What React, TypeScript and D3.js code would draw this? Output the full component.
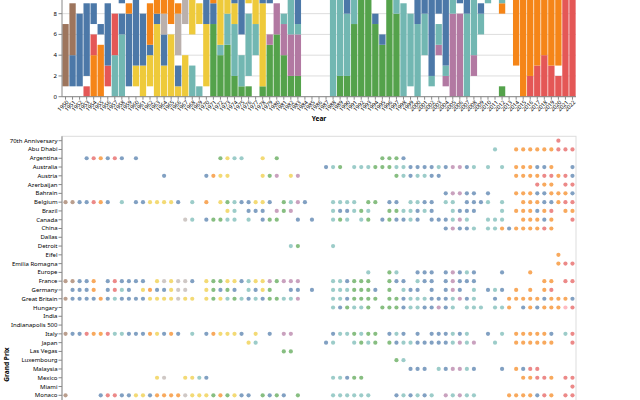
import React from 'react';
import * as d3 from 'd3';

// seasons 1950..2022, one band each
const years: string[] = d3.range(1950, 2023).map(String);

// colour keys used in the data strings below ('-' = constructor with no colour)
const colorKeys = ['B', 'O', 'R', 'T', 'G', 'Y', 'P', 'K', 'N', 'A'];
const tableau = ['#4c78a8', '#f58518', '#e45756', '#72b7b2', '#54a24b', '#eeca3b', '#b279a2', '#ff9da6', '#9d755d', '#bab0ac'];

// wins per season, stacked from the bottom: <colour><count>
const winsBySeason: string[] = [
  '-1 N6', '-1 B3 N5', '-1 B7', 'R1 -1 B7', 'O4 R2 -1 B2', 'O5 -1 B1', '-1 R2 B6', 'T4 R4', 'T6 B2 -1 B2', '-1 B7 O1',
  '-1 Y2 B7', 'Y3 B5', '-1 Y3 B1 O4', 'Y7 B1 O2', 'Y3 B3 A2 O2', 'Y6 -1 O3', 'Y1 B2 -1 A4 O1', 'Y4 -3 A4', 'T3 -3 Y5 B1', 'T1 -6 Y2 -2',
  '-1 Y6 B4 -2', 'G7 B2 O2', 'G4 T1 Y5 B1 O1', 'G5 T3 Y7', 'G2 T5 Y2 B3 -3', 'G1 T3 -2 B6 -2', 'G1 -1 T6 -1 Y1 B6', '-4 T3 Y5 -1 B4', 'G1 Y8 B5 -2', 'G5 P1 -3 B6',
  'G6 P3 -5', 'G4 P3 T1 -2 B2 -3', 'G2 P4 T4 -1 B3 -2', 'G2 P4 T1 B4 -4', '-16', '-16', '-16', '-16', 'T15 B1', 'G2 T10 B3 -1',
  'G2 T6 B6 -2', 'G7 T8 -1', 'G10 T5 -1', 'G10 T5 -1', 'G7 B1 -8', 'G5 B1 -11', 'G12 -1 B3', 'G8 T3 -1 B5', 'T9 -1 B6', '-1 T7 -2 B6',
  'T7 B10', '-4 T4 B9', '-1 T1 B15', '-4 P1 T2 -1 B8', '-1 P1 T1 B15', 'P8 T10 B1', 'P8 -1 B9', 'T8 B9', '-2 P2 T6 B8 -1', '-6 T2 B1 -8',
  '-9 T5 B5', '-12 T6 B1', 'G1 -7 O1 T7 -1 B3', '-13 O3 -1 B2', '-3 O16', 'O16 B3', 'R2 O19', 'R3 O12 B5', 'R4 O11 B6', 'R3 O15 B3',
  'R2 -1 O13 -1', 'R11 O9 K1', 'R17 O1 B4',
];

const grandPrix: string[] = [
  '70th Anniversary', 'Abu Dhabi', 'Argentina', 'Australia', 'Austria', 'Azerbaijan', 'Bahrain', 'Belgium', 'Brazil', 'Canada',
  'China', 'Dallas', 'Detroit', 'Eifel', 'Emilia Romagna', 'Europe', 'France', 'Germany', 'Great Britain', 'Hungary',
  'India', 'Indianapolis 500', 'Italy', 'Japan', 'Las Vegas', 'Luxembourg', 'Malaysia', 'Mexico', 'Miami', 'Monaco',
  'Morocco', 'Netherlands', 'Pacific', 'Pescara', 'Portugal', 'Qatar', 'Russia', 'Sakhir', 'San Marino', 'Saudi Arabia',
  'Singapore', 'South Africa', 'South Korea', 'Spain', 'Styria', 'Sweden', 'Switzerland', 'Turkey', 'Tuscany', 'USA',
  'USA East', 'USA West',
];

// winner colour per race: <yy><colour>, rows in the order of grandPrix
const gpWinners: string[] = [
  '20R',
  '11T 14O 15O 16O 17O 18O 19O 20R 21R 22R',
  '53B 54R 55O 56B 57R 58B 60B 72G 73Y 74T 75T 78Y 80G 95G 96G 97G 98B',
  '87B 88T 89G 91T 92T 93T 94G 95G 96G 97T 98T 99B 00B 01B 02B 03T 04B 05P 06P 07B 08T 10T 12T 14O 15O 16O 17B 18B 19O 22B',
  '64B 70B 71O 72Y 73Y 78Y 79G 80P 82Y 83P 97G 98T 99B 00T 01T 02B 03B 14O 15O 16O 17O 18R 19R 20O 21R 22B',
  '17R 18O 19O 21R 22R',
  '04B 05P 06P 07B 08B 10B 14O 15O 16O 17B 18B 19O 20O 21O 22B',
  '50N 51N 52B 53B 54R 55O 56B 58T 60B 61B 62Y 63Y 64Y 65Y 66B 68T 70O 72Y 73G 74T 75B 76B 77Y 78Y 79B 81G 82T 83P 84B 88T 89T 90T 91T 93G 94G 96B 97B 99T 00T 01B 02B 04T 05T 07B 08B 09B 10T 12T 15O 16O 17O 18B 19B 20O 21R 22R',
  '73Y 74T 76B 77B 78B 80P 81G 82P 88T 89B 90B 91T 92G 93T 96G 97G 98T 99T 00B 01T 02B 05T 06B 07B 08B 12T 14O 15O 16O 17B 18O 19R 21O 22O',
  '67A 68T 70B 71G 72G 73T 74T 76T 78B 79G 80G 83B 85B 88T 89G 90T 92T 93G 95B 96G 97B 98B 99T 00B 02B 03B 04B 05T 06P 07T 10T 11T 12T 15O 16O 17O 18B 19O 22R',
  '04B 05P 06B 07B 08T 10T 11T 12O 13B 14O 15O 16O 17O 18R 19O',
  '',
  '82T 83G 88T',
  '20O',
  '20O 21R 22R',
  '93T 96G 97T 00B 01B 02B 04B 05P 06B 07T 08B 12B 16O',
  '50N 51N 52B 53B 54O 56B 57R 58B 59B 60B 61B 63Y 64A 65Y 66A 67A 68B 70Y 71G 72G 73Y 74Y 75B 76T 77Y 78Y 79P 80G 81P 82P 83P 88T 89T 90B 91G 92G 93G 96G 97B 98B 00T 01B 02B 04B 05P 06B 07B 08B 18O 19O 21R 22R',
  '51B 52B 53B 54O 56B 57R 58T 59B 61Y 62O 63B 64B 65Y 66A 67A 70Y 71G 72B 73G 74B 76T 77B 78Y 79G 82B 83B 85B 88T 89T 90T 91G 92G 93G 94B 96G 98T 99B 00B 02B 04B 05P 06B 08T 10B 11T 12B 14O 16O 18O 19R',
  '50N 51B 52B 53B 54B 55O 56B 57T 58B 59B 60B 61B 62Y 63Y 64Y 65Y 66A 67Y 68Y 70Y 71G 72Y 73T 74G 75T 76B 77T 78B 79G 80G 81T 82T 83P 88T 89T 90B 91G 92G 93G 94G 96G 97G 98B 99T 00T 01T 02B 03B 04B 05T 06P 07B 08T 11B 13O 14O 15O 16O 17O 18B 19O 20O 21O 22B',
  '88T 89B 90G 91T 92T 93G 95G 96G 97G 98B 99T 00T 01B 02B 03P 04B 05T 07T 08T 09T 11T 12T 13O 15B 16O 17B 18O 19O 20O 21K 22R',
  '',
  '',
  '50N 51B 52B 53R 54O 55O 56R 57T 58T 59B 60B 61B 62O 63Y 64B 65O 66B 68T 70B 71O 72Y 73Y 74Y 75B 77Y 79B 81P 82P 88B 89T 90T 91G 92T 93G 94G 96B 97T 98B 00B 02B 03B 04B 05T 06B 07T 10B 12T 14O 15O 16O 17O 18O 19B 21T 22R',
  '76Y 77T 87B 88T 91T 92G 93T 94G 96G 97B 98T 99T 00B 01B 02B 03B 04B 05T 06P 07T 08P 11T 14O 15O 16O 17O 18O 19O 22R',
  '81G 82G',
  '97G 98T',
  '99B 00B 01B 03T 04B 05P 06P 07T 08B 12B 14O 15B 16R 17R',
  '63Y 64A 67Y 68Y 69T 70B 88T 89T 90B 91G 92G 15O 16O 17R 18R 19O 21R 22R',
  '22R',
  '50N 55B 56R 57R 58B 59B 60Y 61Y 62B 63O 64O 65O 66O 67A 68Y 69Y 70Y 71G 72O 73G 74Y 75B 76B 78G 79B 80G 81B 83G 88T 89T 90T 91T 92T 93T 97B 98T 99B 00T 01B 02T 04P 05T 06P 07T 08T 13O 14O 15O 16O 17B 18R 19O 21R 22R',
];

const winTicks = d3.range(0, 23, 2);

const App: React.FC = () => {
  const width = 640;
  const height = 400;
  const left = 62;
  const right = 576;
  const barBase = 96.7;
  const barTop = barBase - 22 * 10.38;
  const dotTop = 136.3;
  const dotBottom = dotTop + grandPrix.length * 8.78;

  const color = d3.scaleOrdinal<string, string>(colorKeys, tableau);

  const x = d3.scaleBand<string>(years, [left, right]).paddingInner(0.1).paddingOuter(0.05);
  const y = d3.scaleLinear([0, 22], [barBase, barTop]);
  const gp = d3.scalePoint<string>(grandPrix, [dotTop, dotBottom]).padding(0.5);

  const segments = winsBySeason.flatMap((s, i) => {
    let acc = 0;
    return s.split(' ').map(tok => {
      const seg = { year: years[i], key: tok[0], y0: acc, y1: acc + +tok.slice(1) };
      acc = seg.y1;
      return seg;
    }).filter(d => d.key !== '-');
  });

  const dots = gpWinners.flatMap((s, r) => (s ? s.split(' ') : []).map(tok => {
    const yy = +tok.slice(0, 2);
    return { race: grandPrix[r], year: String(yy >= 50 ? 1900 + yy : 2000 + yy), key: tok[2] };
  }));

  // the page only shows part of the figure; skip labels that fall outside it
  const inView = (v: number) => v > 3 && v < height - 3;

  const bw = x.bandwidth();
  const font = "'Noto Sans', sans-serif";

  return (
    <svg width={width} height={height} style={{ position: 'absolute', top: 0, left: 0 }} fontFamily={font}>
      {/* wins per season */}
      <g>
        {winTicks.map(t => (
          <line key={t} x1={left} x2={right} y1={y(t)} y2={y(t)} stroke="#ddd" strokeWidth={1} />
        ))}
        {segments.map((d, i) => (
          <rect key={i} x={x(d.year)} width={bw} y={y(d.y1)} height={y(d.y0) - y(d.y1)} fill={color(d.key)} />
        ))}
        <line x1={left} x2={left} y1={barBase} y2={barTop} stroke="#888" />
        {winTicks.map(t => (
          <g key={t} transform={`translate(0,${y(t)})`}>
            <line x1={left - 3.5} x2={left} stroke="#888" />
            {inView(y(t)) && (
              <text x={left - 5} textAnchor="end" dominantBaseline="central" fontSize={6}>{t}</text>
            )}
          </g>
        ))}
        <line x1={left} x2={right} y1={barBase} y2={barBase} stroke="#888" />
        {years.map(yr => {
          const cx = (x(yr) ?? 0) + bw / 2;
          return (
            <g key={yr}>
              <line x1={cx} x2={cx} y1={barBase} y2={barBase + 3} stroke="#888" />
              <text transform={`translate(${cx + 2},${barBase + 4.5}) rotate(-45)`} textAnchor="end"
                dominantBaseline="central" fontSize={5.6}>{yr}</text>
            </g>
          );
        })}
        <text x={(left + right) / 2} y={121} textAnchor="middle" fontSize={6.6} fontWeight="bold">Year</text>
      </g>

      {/* winners per grand prix */}
      <g>
        <rect x={left} y={dotTop} width={right - left} height={dotBottom - dotTop} fill="none" stroke="#ddd" />
        {dots.map((d, i) => (
          <circle key={i} cx={(x(d.year) ?? 0) + bw / 2} cy={gp(d.race)} r={2.1} fill={color(d.key)} opacity={0.7} />
        ))}
        <line x1={left} x2={left} y1={dotTop} y2={dotBottom} stroke="#888" />
        {grandPrix.map(g => (
          <g key={g} transform={`translate(0,${gp(g)})`}>
            <line x1={left - 3.5} x2={left} stroke="#888" />
            {inView(gp(g) ?? 0) && (
              <text x={left - 4.5} textAnchor="end" dominantBaseline="central" fontSize={6}>{g}</text>
            )}
          </g>
        ))}
        <text transform={`translate(9,${(dotTop + dotBottom) / 2}) rotate(-90)`} textAnchor="middle"
          fontSize={6.6} fontWeight="bold">Grand Prix</text>
      </g>
    </svg>
  );
};

export default App;
